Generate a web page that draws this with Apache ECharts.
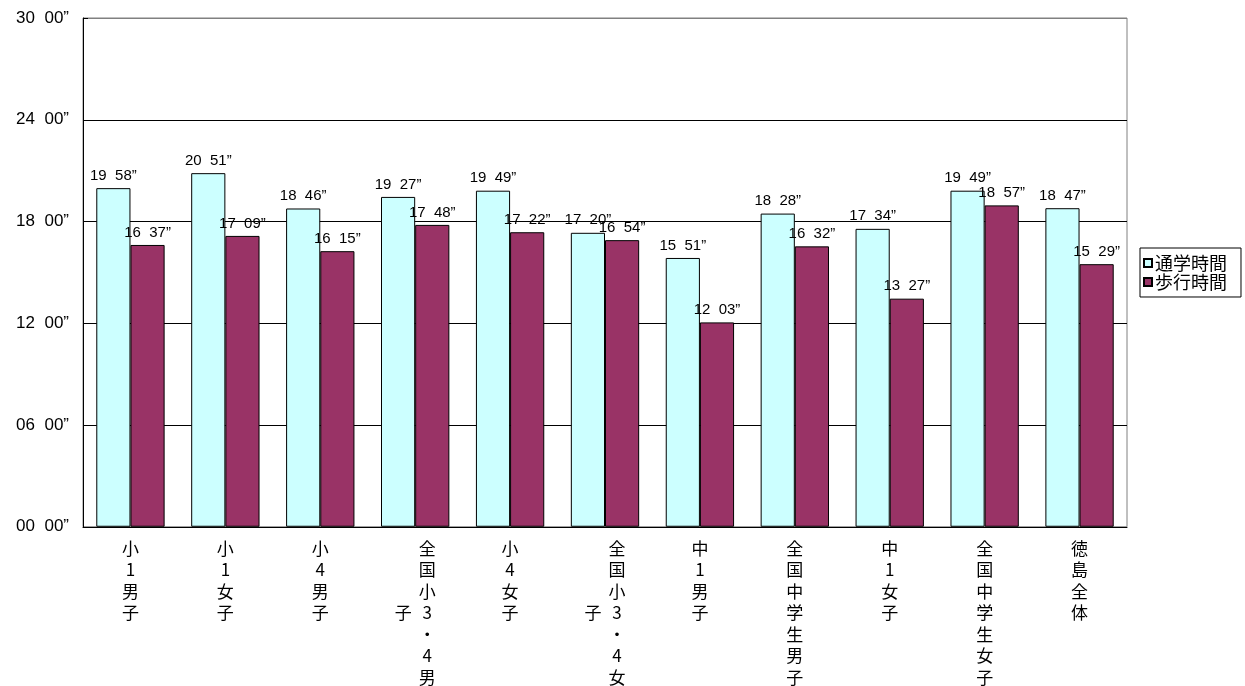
<!DOCTYPE html>
<html lang="ja" style="height: 100%">
<head>
  <meta charset="utf-8">
</head>
<body style="height: 100%; margin: 0; background: #fff">
  <div id="container" style="width: 1245px; height: 686px"></div>

  <script type="text/javascript" src="https://cdn.jsdelivr.net/npm/echarts@6/dist/echarts.min.js"></script>

  <script type="text/javascript">
    // 時間はすべて秒で持つ
    var categories = ['小1男子', '小1女子', '小4男子', '全国小3・4男子', '小4女子', '全国小3・4女子',
      '中1男子', '全国中学生男子', '中1女子', '全国中学生女子', '徳島全体'];
    var commute = [19*60+58, 20*60+51, 18*60+46, 19*60+27, 19*60+49, 17*60+20,
      15*60+51, 18*60+28, 17*60+34, 19*60+49, 18*60+47];
    var walking = [16*60+37, 17*60+9, 16*60+15, 17*60+48, 17*60+22, 16*60+54,
      12*60+3, 16*60+32, 13*60+27, 18*60+57, 15*60+29];
    var seriesNames = ['通学時間', '歩行時間'];

    function pad(n) { return (n < 10 ? '0' : '') + n; }
    function fmt(sec) {
      return pad(Math.floor(sec / 60)) + '  ' + pad(Math.round(sec % 60)) + '\u201d';
    }

    // 縦書きラベル。7文字を超える分は左の列に回す
    function verticalLabel(name) {
      var chars = Array.from(name);
      var lines = [];
      if (chars.length <= 7) {
        chars.forEach(function (c) { lines.push('{c|' + c + '}'); });
      } else {
        var main = chars.slice(0, 7), rest = chars.slice(7);
        main.forEach(function (c, i) {
          var left = (i >= 3 && i - 3 < rest.length) ? rest[i - 3] : ' ';
          lines.push('{e|' + left + '}{g| }{c|' + c + '}');
        });
      }
      return lines.join('\n');
    }

    var dom = document.getElementById('container');
    var myChart = echarts.init(dom, null, { renderer: 'canvas' });

    var labelRich = {
      c: { width: 17, fontSize: 17, lineHeight: 21.5, align: 'center', color: '#000',
        fontFamily: 'Noto Sans CJK JP' },
      e: { width: 17, fontSize: 17, lineHeight: 21.5, align: 'center', color: '#000',
        fontFamily: 'Noto Sans CJK JP' },
      g: { width: 7, fontSize: 17, lineHeight: 21.5 }
    };

    var option = {
      animation: false,
      backgroundColor: '#fff',
      grid: {
        left: 83, right: 118, top: 18, bottom: 158,
        show: true, borderColor: '#808080', borderWidth: 1
      },
      legend: {
        orient: 'vertical',
        left: 1140, top: 248,
        data: seriesNames,
        icon: 'rect',
        itemWidth: 8, itemHeight: 8, itemGap: 1,
        padding: [6, 14, 6, 3],
        borderColor: '#000', borderWidth: 1,
        textStyle: { fontSize: 18, color: '#000', fontFamily: 'Noto Sans CJK JP', padding: [0, 0, 0, -2] }
      },
      xAxis: {
        type: 'category',
        data: categories,
        axisLine: { lineStyle: { color: '#000', width: 1 } },
        axisTick: { inside: true, length: 5, lineStyle: { color: '#000' } },
        axisLabel: {
          interval: 0, margin: 11,
          formatter: verticalLabel,
          rich: labelRich
        }
      },
      yAxis: {
        type: 'value',
        min: 0, max: 1800, interval: 360,
        axisLine: { show: true, lineStyle: { color: '#000', width: 1 } },
        axisTick: { show: true, inside: true, length: 5, lineStyle: { color: '#000' } },
        splitLine: { lineStyle: { color: ['#000', '#000', '#000', '#000', '#000', '#808080'], width: 1 } },
        axisLabel: {
          margin: 14, fontSize: 17, color: '#000', fontFamily: 'Liberation Sans',
          formatter: function (v) { return fmt(v); }
        }
      },
      series: [
        {
          name: seriesNames[0], type: 'bar', data: commute,
          barCategoryGap: '28%', barGap: '0%',
          itemStyle: { color: '#CCFFFF', borderColor: '#000', borderWidth: 1 },
          label: {
            show: true, position: 'top', distance: 5,
            fontSize: 15, color: '#000', fontFamily: 'Liberation Sans',
            formatter: function (p) { return fmt(p.value); }
          }
        },
        {
          name: seriesNames[1], type: 'bar', data: walking,
          barCategoryGap: '28%', barGap: '0%',
          itemStyle: { color: '#993366', borderColor: '#000', borderWidth: 1 },
          label: {
            show: true, position: 'top', distance: 5,
            fontSize: 15, color: '#000', fontFamily: 'Liberation Sans',
            formatter: function (p) { return fmt(p.value); }
          }
        }
      ]
    };

    myChart.setOption(option);
    window.addEventListener('resize', myChart.resize);
  </script>
</body>
</html>
